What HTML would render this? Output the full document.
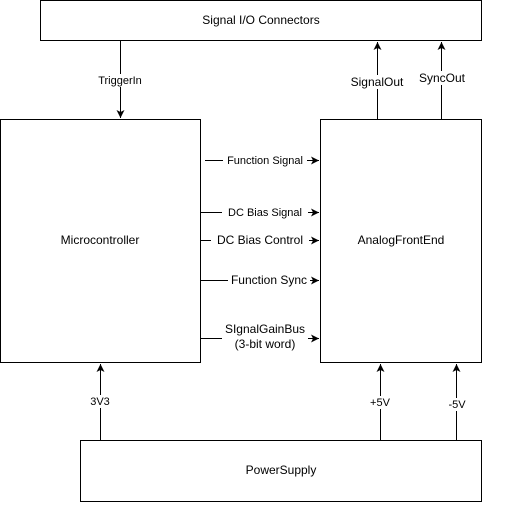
<!DOCTYPE html>
<html><head><style>
body{margin:0;width:522px;height:502px;background:#fff;font-family:"Liberation Sans",Arial,sans-serif;}
</style></head><body>
<svg width="522" height="502" xmlns="http://www.w3.org/2000/svg" font-family="Liberation Sans, Arial, sans-serif" font-size="11">
<defs><marker id="a" markerWidth="9" markerHeight="9" refX="8" refY="4.5" orient="auto" markerUnits="userSpaceOnUse"><path d="M0,0.5 L8,4.5 L0,8.5 L2,4.5 z" fill="#000"/></marker></defs>
<g fill="none" stroke="#000" stroke-width="1">
<rect x="40.5" y="0.5" width="441" height="40"/>
<rect x="0.5" y="119.5" width="200" height="243"/>
<rect x="320.5" y="119.5" width="161" height="243"/>
<rect x="80.5" y="440.5" width="401" height="61"/>
<line x1="120.5" y1="41" x2="120.5" y2="118" marker-end="url(#a)"/>
<line x1="377.5" y1="119" x2="377.5" y2="42" marker-end="url(#a)"/>
<line x1="441.5" y1="119" x2="441.5" y2="42" marker-end="url(#a)"/>
<line x1="100.5" y1="440" x2="100.5" y2="364" marker-end="url(#a)"/>
<line x1="380.5" y1="440" x2="380.5" y2="364" marker-end="url(#a)"/>
<line x1="456.5" y1="440" x2="456.5" y2="364" marker-end="url(#a)"/>
<line x1="205" y1="160.5" x2="319" y2="160.5" marker-end="url(#a)"/>
<line x1="201" y1="212.5" x2="319" y2="212.5" marker-end="url(#a)"/>
<line x1="201" y1="240.5" x2="319" y2="240.5" marker-end="url(#a)"/>
<line x1="201" y1="280.5" x2="319" y2="280.5" marker-end="url(#a)"/>
<line x1="201" y1="338.5" x2="319" y2="338.5" marker-end="url(#a)"/>
</g>
<g text-anchor="middle" fill="#000">
<text x="261" y="24" font-size="12">Signal I/O Connectors</text>
<text x="100" y="244" font-size="12">Microcontroller</text>
<text x="401" y="244" font-size="12">AnalogFrontEnd</text>
<text x="281" y="474" font-size="12">PowerSupply</text>
<rect x="95" y="74" width="50" height="13" fill="#fff"/><text x="120" y="84">TriggerIn</text>
<rect x="350" y="75" width="56" height="14" fill="#fff"/><text x="377" y="86" font-size="12">SignalOut</text>
<rect x="419" y="71" width="46" height="14" fill="#fff"/><text x="442" y="82" font-size="12">SyncOut</text>
<rect x="88" y="395" width="24" height="13" fill="#fff"/><text x="100" y="405">3V3</text>
<rect x="368" y="396" width="24" height="13" fill="#fff"/><text x="380" y="406">+5V</text>
<rect x="446" y="398" width="22" height="13" fill="#fff"/><text x="457" y="408">-5V</text>
<rect x="223" y="154" width="84" height="13" fill="#fff"/><text x="265" y="164">Function Signal</text>
<rect x="222" y="206" width="86" height="13" fill="#fff"/><text x="265" y="216">DC Bias Signal</text>
<rect x="211" y="234" width="98" height="14" fill="#fff"/><text x="260" y="244" font-size="12">DC Bias Control</text>
<rect x="228" y="273" width="82" height="14" fill="#fff"/><text x="269" y="284" font-size="12">Function Sync</text>
<rect x="222" y="320" width="86" height="30" fill="#fff"/><text x="265" y="333" font-size="12">SIgnalGainBus</text><text x="265" y="348" font-size="12">(3-bit word)</text>
</g>
</svg>
</body></html>
